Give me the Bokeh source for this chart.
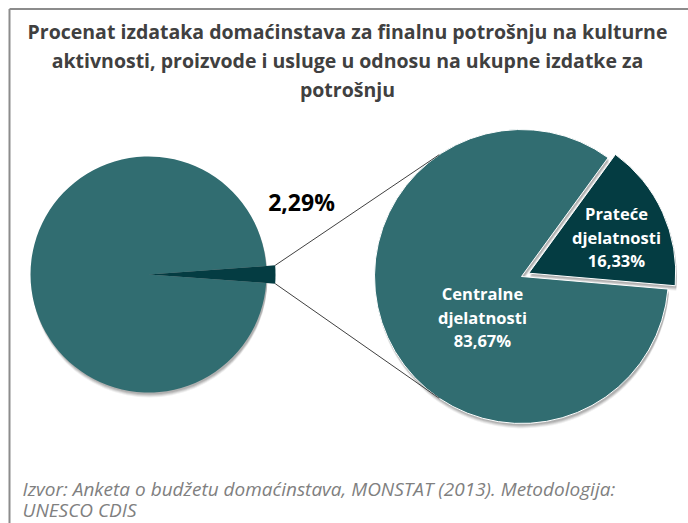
import math
from bokeh.plotting import figure
from bokeh.models import Range1d
from bokeh.core.properties import value
from bokeh.embed import file_html
from bokeh.resources import INLINE

# ---- data ----
title_lines = [
    "Procenat izdataka domaćinstava za finalnu potrošnju na kulturne",
    "aktivnosti, proizvode i usluge u odnosu na ukupne izdatke za",
    "potrošnju",
]
outer_labels = ["Ostalo", "Kultura"]
outer_values = [97.71, 2.29]
outer_value_label = "2,29%"
inner_names = [["Centralne", "djelatnosti"], ["Prateće", "djelatnosti"]]
inner_values = [83.67, 16.33]
inner_value_labels = ["83,67%", "16,33%"]
source_lines = [
    "Izvor: Anketa o budžetu domaćinstava, MONSTAT (2013). Metodologija:",
    "UNESCO CDIS",
]

# ---- styles ----
W, H = 688, 523
TEAL = "#316d71"
DARK = "#043c42"
FONT = "Open Sans"

def sx(x):
    return x

def sy(y):
    return H - y

p = figure(width=W, height=H, x_range=Range1d(0, W), y_range=Range1d(0, H),
           output_backend="svg", toolbar_location=None, min_border=0,
           x_axis_type=None, y_axis_type=None)
p.grid.visible = False
p.outline_line_color = None
p.background_fill_color = "white"
p.border_fill_color = "white"

# border (top and left)
p.segment(x0=[sx(9), sx(9)], y0=[sy(8.5), sy(8.5)], x1=[sx(688), sx(9)], y1=[sy(8.5), sy(523)],
          line_color="#8c8c8c", line_width=2)

# ---- left pie ----
lcx, lcy, lr = sx(148), sy(274), 118
small_frac = outer_values[1] / sum(outer_values)
half = math.pi * small_frac
small_r = 127

# ---- right pie ----
rcx, rcy, rr = sx(521), sy(276), 147
start = math.radians(-4.9)
sec_frac = inner_values[1] / sum(inner_values)
sec_end = start + 2 * math.pi * sec_frac
bis = (start + sec_end) / 2
off = 8
ex_x, ex_y = rcx + off * math.cos(bis), rcy + off * math.sin(bis)

# shadows
for k, a in [(2, 0.10), (3, 0.10), (4, 0.08), (5, 0.06)]:
    p.circle(x=[lcx + 1], y=[lcy - k], radius=lr, fill_color="#000000", fill_alpha=a, line_color=None)
    p.wedge(x=[rcx + 1], y=[rcy - k], radius=rr, start_angle=sec_end, end_angle=start + 2 * math.pi,
            fill_color="#000000", fill_alpha=a, line_color=None)
    p.wedge(x=[ex_x + 1], y=[ex_y - k], radius=rr, start_angle=start, end_angle=sec_end,
            fill_color="#000000", fill_alpha=a, line_color=None)

# left pie wedges
p.wedge(x=[lcx], y=[lcy], radius=lr, start_angle=half, end_angle=2 * math.pi - half,
        fill_color=TEAL, line_color=None)
p.wedge(x=[lcx], y=[lcy], radius=small_r, start_angle=-half, end_angle=half,
        fill_color=DARK, line_color=None)

# right pie wedges
p.wedge(x=[rcx], y=[rcy], radius=rr, start_angle=sec_end, end_angle=start + 2 * math.pi,
        fill_color=TEAL, line_color="white", line_width=1)
p.wedge(x=[ex_x], y=[ex_y], radius=rr, start_angle=start, end_angle=sec_end,
        fill_color=DARK, line_color="white", line_width=1)

# connector lines
a_up, a_dn = math.radians(124), math.radians(236)
p0u = (lcx + small_r * math.cos(half), lcy + small_r * math.sin(half))
p0d = (lcx + small_r * math.cos(-half), lcy + small_r * math.sin(-half))
p1u = (rcx + rr * math.cos(a_up), rcy + rr * math.sin(a_up))
p1d = (rcx + rr * math.cos(a_dn), rcy + rr * math.sin(a_dn))
p.segment(x0=[p0u[0], p0d[0]], y0=[p0u[1], p0d[1]], x1=[p1u[0], p1d[0]], y1=[p1u[1], p1d[1]],
          line_color="#404040", line_width=1)

# labels
p.text(x=[sx(301)], y=[sy(201)], text=[outer_value_label], text_font=value(FONT),
       text_font_style="bold", text_font_size="23px", text_color="#000000",
       text_align="center", text_baseline="middle")

label_pos = [(482, 293), (616, 213)]
for (lx, ly), names, vl in zip(label_pos, inner_names, inner_value_labels):
    lines = names + [vl]
    for j, t in enumerate(lines):
        p.text(x=[sx(lx)], y=[sy(ly + 23.5 * j)], text=[t], text_font=value(FONT),
               text_font_style="bold", text_font_size="16.5px", text_color="white",
               text_align="center", text_baseline="middle")

# title
for i, t in enumerate(title_lines):
    p.text(x=[sx(347)], y=[sy(31 + 29 * i)], text=[t], text_font=value(FONT),
           text_font_style="bold", text_font_size="19.5px", text_color="#404040",
           text_align="center", text_baseline="middle")

# source
for i, t in enumerate(source_lines):
    p.text(x=[sx(22)], y=[sy(488 + 21.5 * i)], text=[t], text_font=value(FONT),
           text_font_style="italic", text_font_size="19px", text_color="#808080",
           text_align="left", text_baseline="middle")

open("out.html", "w").write(file_html(p, INLINE))
